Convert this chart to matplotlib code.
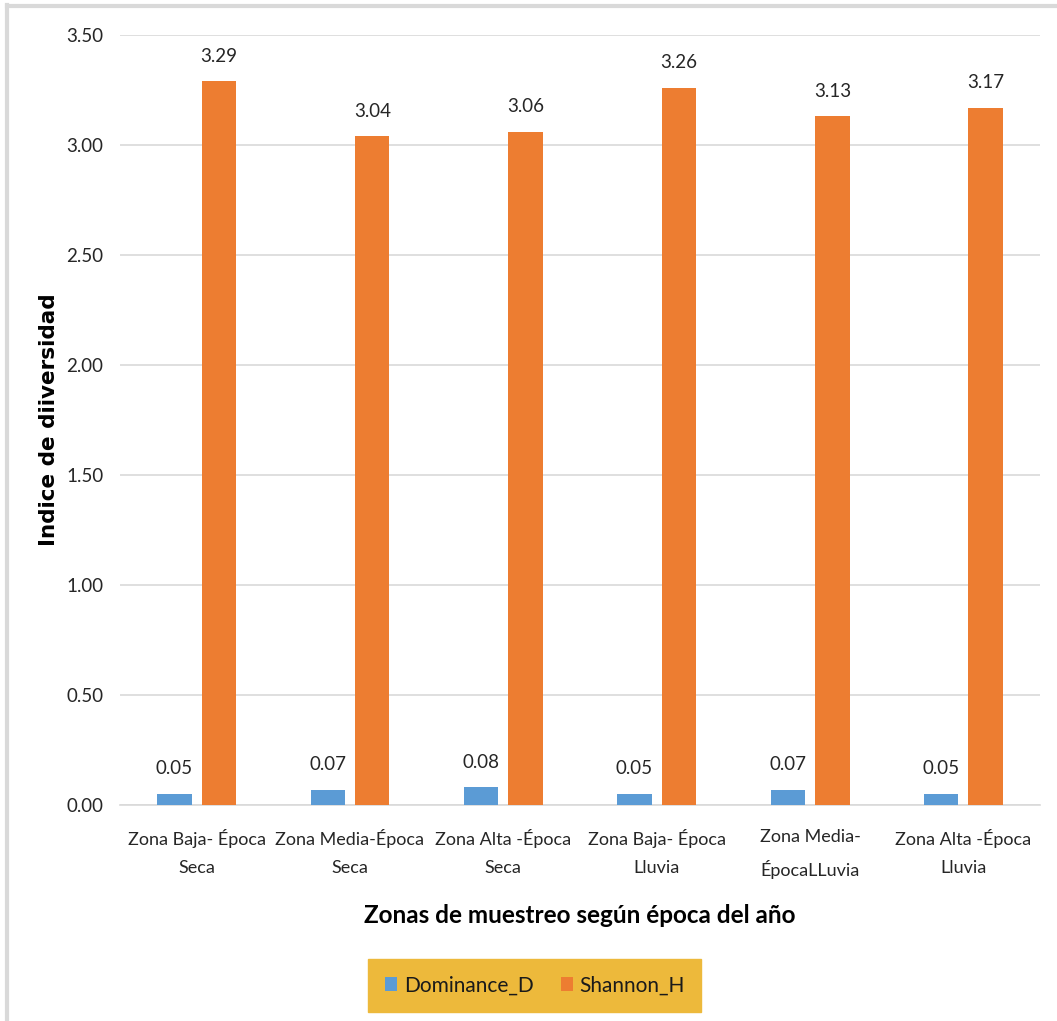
import matplotlib
matplotlib.use("agg")
import matplotlib.pyplot as plt
from matplotlib.lines import Line2D
import numpy as np

plt.rcParams['font.family'] = ['Lato', 'DejaVu Sans']

zonas = ['Zona Baja- Época\nSeca', 'Zona Media-Época\nSeca', 'Zona Alta -Época\nSeca',
         'Zona Baja- Época\nLluvia', 'Zona Media-\nÉpocaLLuvia', 'Zona Alta -Época\nLluvia']
dominance = [0.05, 0.07, 0.08, 0.05, 0.07, 0.05]
shannon = [3.29, 3.04, 3.06, 3.26, 3.13, 3.17]

azul = '#5B9BD5'
naranja = '#ED7D31'
texto = '#262626'

fig = plt.figure(figsize=(10.57, 10.21), dpi=100)
ax = fig.add_axes([0.1135, 0.2116, 0.8705, 0.7541])

x = np.arange(len(zonas))
w = 0.225
b1 = ax.bar(x - 0.145, dominance, w, color=azul, label='Dominance_D', zorder=3)
b2 = ax.bar(x + 0.145, shannon, w, color=naranja, label='Shannon_H', zorder=3)

for barras, vals in ((b1, dominance), (b2, shannon)):
    for r, v in zip(barras, vals):
        ax.annotate('%.2f' % v, (r.get_x() + r.get_width() / 2, v),
                    xytext=(0, 12), textcoords='offset points',
                    ha='center', va='bottom', fontsize=13.5, color=texto)

ax.set_xlim(-0.5, len(zonas) - 0.5)
ax.set_ylim(0, 3.5)
yt = np.arange(0, 3.51, 0.5)
ax.set_yticks(yt)
ax.set_yticklabels(['%.2f' % t for t in yt], fontsize=13.5, color=texto)
ax.set_xticks(x)
ax.set_xticklabels(zonas, fontsize=13, color=texto, linespacing=1.95)
ax.tick_params(length=0)
ax.tick_params(axis='x', pad=17)
ax.tick_params(axis='y', pad=12)

ax.grid(axis='y', color='#D9D9D9', linewidth=1.2, zorder=0)
for s in ('top', 'right', 'left'):
    ax.spines[s].set_visible(False)
ax.spines['bottom'].set_color('#D9D9D9')
ax.spines['bottom'].set_linewidth(1.2)

ax.set_ylabel('Indice de diiversidad', family='DejaVu Sans', fontweight='bold',
              fontsize=15.5)
ax.yaxis.set_label_coords(-0.066, 0.5)
ax.set_xlabel('Zonas de muestreo según época del año', fontweight='bold',
              fontsize=17.5, labelpad=18)

leg = fig.legend(loc='center', bbox_to_anchor=(0.506, 0.035), ncol=2, frameon=True,
                 fancybox=False, fontsize=15, handlelength=0.6, handleheight=0.6,
                 handletextpad=0.3, columnspacing=1.3, borderpad=0.8, framealpha=1)
leg.get_frame().set_facecolor('#EDB93B')
leg.get_frame().set_edgecolor('#EDB93B')
for t in leg.get_texts():
    t.set_color('#1a1a1a')

# marco gris del recuadro
fig.add_artist(Line2D([0.0065, 0.0065], [0, 0.995], color='#D9D9D9', lw=3,
                      transform=fig.transFigure))
fig.add_artist(Line2D([0.0065, 1], [0.9945, 0.9945], color='#D9D9D9', lw=3,
                      transform=fig.transFigure))

plt.savefig('out.png', dpi=100)
